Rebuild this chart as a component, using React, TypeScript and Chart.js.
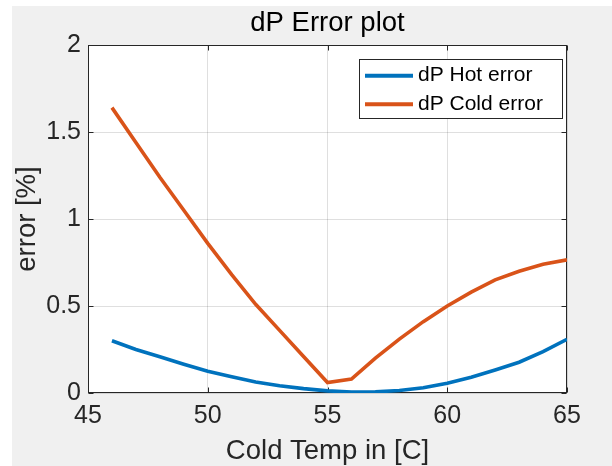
import React, { useEffect, useRef } from "react";
import { Chart, registerables } from "chart.js";

Chart.register(...registerables);

const coldTemps = [46, 47, 48, 49, 50, 51, 52, 53, 54, 55, 56, 57, 58, 59, 60, 61, 62, 63, 64, 65];
const hotError = [0.30, 0.25, 0.208, 0.165, 0.125, 0.093, 0.063, 0.042, 0.025, 0.012, 0.006, 0.007, 0.014, 0.03, 0.056, 0.09, 0.132, 0.177, 0.238, 0.309];
const coldError = [1.64, 1.44, 1.24, 1.05, 0.86, 0.68, 0.51, 0.36, 0.21, 0.06, 0.08, 0.20, 0.31, 0.41, 0.50, 0.58, 0.65, 0.70, 0.74, 0.765];
const seriesLabels = ["dP Hot error", "dP Cold error"];
const xTicks = [45, 50, 55, 60, 65];
const yTicks = [0, 0.5, 1, 1.5, 2];

const FONT = "'Liberation Sans', Arial, Helvetica, sans-serif";
const AXIS_COLOR = "#262626";

const bgPlugin = {
  id: "matlabBg",
  beforeDraw(chart: any) {
    const { ctx, width, height, chartArea } = chart;
    ctx.save();
    ctx.fillStyle = "#ffffff";
    ctx.fillRect(0, 0, width, height);
    ctx.fillStyle = "#f0f0f0";
    ctx.fillRect(12, 6, width - 12, height - 6);
    ctx.fillStyle = "#ffffff";
    ctx.fillRect(chartArea.left, chartArea.top, chartArea.right - chartArea.left, chartArea.bottom - chartArea.top);
    ctx.restore();
  },
  beforeDatasetsDraw(chart: any) {
    const { ctx, chartArea } = chart;
    const xs = chart.scales.x;
    const ys = chart.scales.y;
    const L = Math.round(chartArea.left) + 0.5;
    const R = Math.round(chartArea.right) - 0.5;
    const T = Math.round(chartArea.top) + 0.5;
    const B = Math.round(chartArea.bottom) - 0.5;
    ctx.save();
    ctx.strokeStyle = AXIS_COLOR;
    ctx.lineWidth = 1;
    ctx.strokeRect(L, T, R - L, B - T);
    const tl = 5;
    ctx.beginPath();
    xTicks.forEach((v) => {
      const px = Math.round(xs.getPixelForValue(v)) + 0.5;
      ctx.moveTo(px, B);
      ctx.lineTo(px, B - tl);
      ctx.moveTo(px, T);
      ctx.lineTo(px, T + tl);
    });
    yTicks.forEach((v) => {
      const py = Math.round(ys.getPixelForValue(v)) + 0.5;
      ctx.moveTo(L, py);
      ctx.lineTo(L + tl, py);
      ctx.moveTo(R, py);
      ctx.lineTo(R - tl, py);
    });
    ctx.stroke();
    ctx.restore();
  },
};

const legendPlugin = {
  id: "matlabLegend",
  afterDatasetsDraw(chart: any) {
    const { ctx } = chart;
    const x0 = 359.5, y0 = 59.5, w = 203, h = 59;
    ctx.save();
    ctx.fillStyle = "#ffffff";
    ctx.fillRect(x0, y0, w, h);
    ctx.strokeStyle = AXIS_COLOR;
    ctx.lineWidth = 1;
    ctx.strokeRect(x0, y0, w, h);
    const rows = [75.7, 104.3];
    chart.data.datasets.forEach((ds: any, i: number) => {
      const y = rows[i];
      ctx.strokeStyle = ds.borderColor;
      ctx.lineWidth = 4;
      ctx.beginPath();
      ctx.moveTo(365, y);
      ctx.lineTo(413, y);
      ctx.stroke();
      ctx.fillStyle = "#000000";
      ctx.font = `21px ${FONT}`;
      ctx.textAlign = "left";
      ctx.textBaseline = "middle";
      ctx.fillText(ds.label, 418, y);
    });
    ctx.restore();
  },
};

export default function App() {
  const ref = useRef<HTMLCanvasElement | null>(null);
  useEffect(() => {
    if (!ref.current) return;
    const chart = new Chart(ref.current, {
      type: "line",
      data: {
        datasets: [
          {
            label: seriesLabels[0],
            data: coldTemps.map((x, i) => ({ x, y: hotError[i] })),
            borderColor: "#0072BD",
            backgroundColor: "#0072BD",
            borderWidth: 3.6,
            pointRadius: 0,
            tension: 0,
            clip: 0,
          },
          {
            label: seriesLabels[1],
            data: coldTemps.map((x, i) => ({ x, y: coldError[i] })),
            borderColor: "#D95319",
            backgroundColor: "#D95319",
            borderWidth: 3.6,
            pointRadius: 0,
            tension: 0,
            clip: 0,
          },
        ],
      },
      options: {
        responsive: false,
        animation: false,
        devicePixelRatio: 1,
        layout: { padding: { left: 0, right: 45, top: 0, bottom: 0 } },
        plugins: {
          legend: { display: false },
          tooltip: { enabled: false },
          title: {
            display: true,
            text: "dP Error plot",
            fullSize: false,
            color: "#000000",
            font: { family: FONT, size: 27.5, weight: "normal", lineHeight: 1.2 },
            padding: { top: 7, bottom: 5 },
          },
        },
        scales: {
          x: {
            type: "linear",
            min: 45,
            max: 65,
            afterBuildTicks: (s: any) => {
              s.ticks = xTicks.map((v) => ({ value: v }));
            },
            afterFit: (s: any) => {
              s.height = 73;
            },
            ticks: {
              color: AXIS_COLOR,
              font: { family: FONT, size: 25, lineHeight: 1.2 },
              padding: 8,
              maxRotation: 0,
              callback: (v: any) => String(v),
            },
            grid: { color: "rgba(38,38,38,0.15)", drawTicks: false, lineWidth: 1 },
            border: { display: false },
            title: {
              display: true,
              text: "Cold Temp in [C]",
              color: AXIS_COLOR,
              font: { family: FONT, size: 27.5, lineHeight: 1 },
              padding: { top: 0, bottom: 1 },
            },
          },
          y: {
            type: "linear",
            min: 0,
            max: 2,
            afterBuildTicks: (s: any) => {
              s.ticks = yTicks.map((v) => ({ value: v }));
            },
            afterFit: (s: any) => {
              s.width = 88;
            },
            ticks: {
              color: AXIS_COLOR,
              font: { family: FONT, size: 25, lineHeight: 1.2 },
              padding: 7,
              callback: (v: any) => String(v),
            },
            grid: { color: "rgba(38,38,38,0.15)", drawTicks: false, lineWidth: 1 },
            border: { display: false },
            title: {
              display: true,
              text: "error [%]",
              color: AXIS_COLOR,
              font: { family: FONT, size: 27.5, lineHeight: 1.2 },
              padding: { top: 10.7, bottom: 0 },
            },
          },
        },
      },
      plugins: [bgPlugin, legendPlugin],
    } as any);
    return () => chart.destroy();
  }, []);
  return (
    <div style={{ position: "fixed", left: 0, top: 0, width: 612, height: 466 }}>
      <canvas ref={ref} width={612} height={466} style={{ display: "block" }} />
    </div>
  );
}
